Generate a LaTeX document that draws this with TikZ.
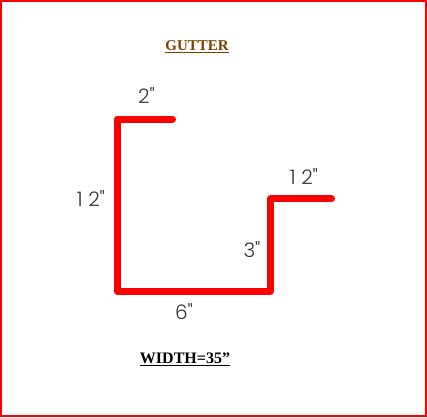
\documentclass[tikz,border=0pt]{standalone}
\usepackage{fontspec}
\setmainfont{Liberation Serif}
\newfontfamily\dimfont{Poppins Light}
\definecolor{gutterbrown}{HTML}{7F3F00}
\tikzset{
  x=1pt,y=-1pt,
  frame/.style={draw=red,line width=2pt},
  profile/.style={draw=red,line width=7pt,line cap=round,line join=round},
  dimlabel/.style={font=\dimfont\fontsize{20}{20}\selectfont,text=black!80,inner sep=0pt,anchor=center},
  titlelabel/.style={font=\fontsize{15}{15}\selectfont\bfseries,inner sep=0pt,anchor=center}
}
\begin{document}
\begin{tikzpicture}
\useasboundingbox (0,0) rectangle (427,417);
\draw[frame] (1,1) rectangle (426,416);
\coordinate (p1) at (172.5,119);
\coordinate (p2) at (117,119);
\coordinate (p3) at (117,291);
\coordinate (p4) at (270.5,291);
\coordinate (p5) at (270.5,198.5);
\coordinate (p6) at (331.5,198.5);
\draw[profile] (p1) -- (p2) -- (p3) -- (p4) -- (p5) -- (p6);
\node[titlelabel,text=gutterbrown] (title) at (197,46.5) {\underline{GUTTER}};
\node[titlelabel,text=black,font=\fontsize{16}{16}\selectfont\bfseries] (width) at (185,359) {\underline{WIDTH=35"}};
\node[dimlabel] (top) at (146.5,96) {2"};
\node[dimlabel] (left) at (91,199) {1 2"};
\node[dimlabel] (right) at (304,176.5) {1 2"};
\node[dimlabel] (mid) at (252,250) {3"};
\node[dimlabel] (bottom) at (184,312) {6"};
\end{tikzpicture}
\end{document}
